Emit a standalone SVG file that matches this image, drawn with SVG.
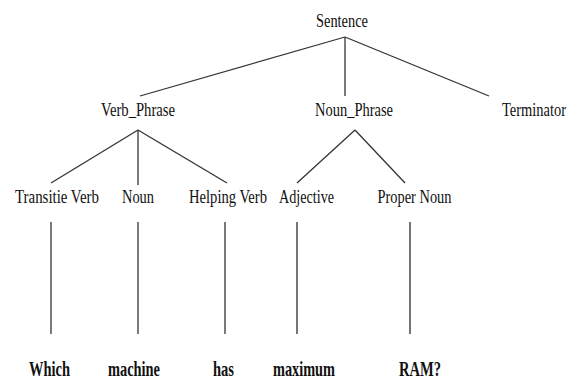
<svg xmlns="http://www.w3.org/2000/svg" width="576" height="379" viewBox="0 0 576 379">
  <style>
    .lbl { font-family: "Liberation Serif", "Times New Roman", serif; font-size: 19px; fill: #111; text-anchor: middle; }
    .word { font-family: "Liberation Serif", "Times New Roman", serif; font-size: 21px; font-weight: bold; fill: #111; text-anchor: middle; }
    .edge { stroke: #333; stroke-width: 1.3; fill: none; }
    .stem { stroke: #222; stroke-width: 1.2; fill: none; }
    .stem2 { stroke: #666; stroke-width: 1.8; fill: none; }
  </style>
  <rect width="576" height="379" fill="#ffffff"/>

  <!-- parse-tree branches -->
  <g id="connectors">
    <line class="edge" x1="345" y1="37" x2="140" y2="96"/>
    <line class="edge" x1="345" y1="37" x2="345" y2="96"/>
    <line class="edge" x1="345" y1="37" x2="489" y2="96"/>

    <line class="edge" x1="138" y1="130" x2="51" y2="183"/>
    <line class="edge" x1="138" y1="130" x2="138" y2="185"/>
    <line class="edge" x1="138" y1="130" x2="227" y2="183"/>

    <line class="edge" x1="355" y1="130" x2="297" y2="183"/>
    <line class="edge" x1="355" y1="130" x2="405" y2="183"/>

    <line class="stem" x1="51" y1="222" x2="51" y2="334"/>
    <line class="stem" x1="138" y1="222" x2="138" y2="334"/>
    <line class="stem" x1="225" y1="222" x2="225" y2="334"/>
    <line class="stem2" x1="297" y1="222" x2="297" y2="334"/>
    <line class="stem2" x1="410" y1="222" x2="410" y2="334"/>
  </g>

  <!-- root -->
  <g id="sentence"><text class="lbl" x="342" y="27" textLength="52" lengthAdjust="spacingAndGlyphs">Sentence</text></g>

  <!-- phrase level -->
  <g id="verb_phrase"><text class="lbl" x="138" y="116" textLength="74" lengthAdjust="spacingAndGlyphs">Verb_Phrase</text></g>
  <g id="noun_phrase"><text class="lbl" x="354" y="116" textLength="78" lengthAdjust="spacingAndGlyphs">Noun_Phrase</text></g>
  <g id="terminator"><text class="lbl" x="534" y="116" textLength="64" lengthAdjust="spacingAndGlyphs">Terminator</text></g>

  <!-- part-of-speech level -->
  <g id="transitive_verb"><text class="lbl" x="57" y="203" textLength="84" lengthAdjust="spacingAndGlyphs">Transitie Verb</text></g>
  <g id="noun"><text class="lbl" x="138" y="203" textLength="32" lengthAdjust="spacingAndGlyphs">Noun</text></g>
  <g id="helping_verb"><text class="lbl" x="228" y="203" textLength="78" lengthAdjust="spacingAndGlyphs">Helping Verb</text></g>
  <g id="adjective"><text class="lbl" x="306.5" y="203" textLength="55" lengthAdjust="spacingAndGlyphs">Adjective</text></g>
  <g id="proper_noun"><text class="lbl" x="414.5" y="203" textLength="74" lengthAdjust="spacingAndGlyphs">Proper Noun</text></g>

  <!-- words -->
  <g id="w_which"><text class="word" x="49.5" y="376" textLength="41" lengthAdjust="spacingAndGlyphs">Which</text></g>
  <g id="w_machine"><text class="word" x="134" y="376" textLength="52" lengthAdjust="spacingAndGlyphs">machine</text></g>
  <g id="w_has"><text class="word" x="223.5" y="376" textLength="21" lengthAdjust="spacingAndGlyphs">has</text></g>
  <g id="w_maximum"><text class="word" x="304" y="376" textLength="62" lengthAdjust="spacingAndGlyphs">maximum</text></g>
  <g id="w_ram"><text class="word" x="420" y="376" textLength="42" lengthAdjust="spacingAndGlyphs">RAM?</text></g>
</svg>
